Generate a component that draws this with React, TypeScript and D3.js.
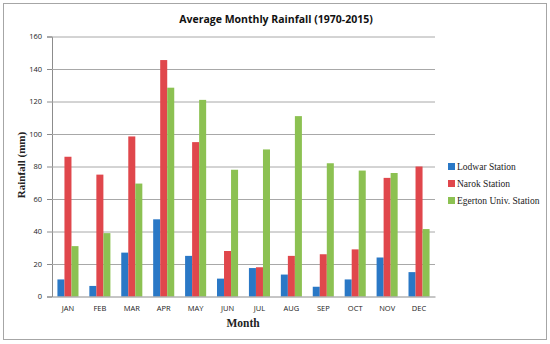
import { useEffect, useRef } from 'react';
import * as d3 from 'd3';

const MONTHS = ['JAN', 'FEB', 'MAR', 'APR', 'MAY', 'JUN', 'JUL', 'AUG', 'SEP', 'OCT', 'NOV', 'DEC'];
const STATIONS = ['Lodwar Station', 'Narok Station', 'Egerton Univ. Station'];
const LODWAR = [10.5, 6.5, 27, 47.5, 25, 11, 17.5, 13.5, 6, 10.5, 24, 15];
const NAROK = [86, 75, 98.5, 145.5, 95, 28, 18, 25, 26, 29, 73, 80];
const EGERTON = [31, 39, 69.5, 128.5, 121, 78, 90.5, 111, 82, 77.5, 76, 41.5];
const Y_TICKS = [0, 20, 40, 60, 80, 100, 120, 140, 160];
const COLORS = ['#2a78c6', '#e0474c', '#8cc152'];

const WIDTH = 550;
const HEIGHT = 344;

export default function App() {
  const ref = useRef<SVGSVGElement | null>(null);

  useEffect(() => {
    if (!ref.current) return;
    const svg = d3.select(ref.current);
    svg.selectAll('*').remove();

    const left = 52, right = 435, top = 36.5, bottom = 296.5;
    const series = [LODWAR, NAROK, EGERTON];

    // chart frame
    svg.append('rect')
      .attr('x', 3.5).attr('y', 3.5)
      .attr('width', 543).attr('height', 336)
      .attr('fill', '#fff').attr('stroke', '#a6a6a6');

    const x = d3.scaleBand().domain(MONTHS).range([left, right]).paddingInner(0.34).paddingOuter(0.17);
    const xs = d3.scaleBand().domain(STATIONS).range([0, x.bandwidth()]);
    const y = d3.scaleLinear().domain([0, 160]).range([bottom, top]);

    // gridlines + y axis
    const yAxis = svg.append('g')
      .attr('transform', `translate(${left},0)`)
      .call(d3.axisLeft(y).tickValues(Y_TICKS).tickSize(5).tickPadding(5));
    yAxis.select('.domain').attr('stroke', '#8c8c8c');
    yAxis.selectAll('.tick line').attr('stroke', '#8c8c8c');
    yAxis.selectAll('.tick text')
      .attr('fill', '#222')
      .style('font-family', 'Open Sans, sans-serif')
      .style('font-size', '7.5px');
    yAxis.selectAll('.tick').filter((d: any) => d !== 0)
      .append('line')
      .attr('x1', 0).attr('x2', right - left)
      .attr('stroke', '#a8a8a8').attr('stroke-width', 1);

    // bars
    series.forEach((vals, si) => {
      svg.append('g').selectAll('rect')
        .data(vals)
        .join('rect')
        .attr('x', (_, i) => (x(MONTHS[i]) as number) + (xs(STATIONS[si]) as number))
        .attr('y', d => y(d))
        .attr('width', xs.bandwidth())
        .attr('height', d => y(0) - y(d))
        .attr('fill', COLORS[si]);
    });

    // x baseline + labels
    const xAxis = svg.append('g')
      .attr('transform', `translate(0,${bottom})`)
      .call(d3.axisBottom(x).tickSize(0).tickPadding(9));
    xAxis.select('.domain').attr('stroke', '#8c8c8c');
    xAxis.selectAll('.tick text')
      .attr('fill', '#222')
      .style('font-family', 'Open Sans, sans-serif')
      .style('font-size', '7.5px');

    // title
    svg.append('text')
      .attr('x', 276).attr('y', 23)
      .attr('text-anchor', 'middle')
      .style('font-family', 'Open Sans, sans-serif')
      .style('font-weight', 700)
      .style('font-size', '10.5px')
      .attr('fill', '#111')
      .text('Average Monthly Rainfall (1970-2015)');

    // axis titles
    svg.append('text')
      .attr('transform', 'translate(25,165) rotate(-90)')
      .attr('text-anchor', 'middle')
      .style('font-family', 'Liberation Serif, serif')
      .style('font-weight', 700)
      .style('font-size', '11px')
      .attr('fill', '#222')
      .text('Rainfall (mm)');
    svg.append('text')
      .attr('x', 243).attr('y', 327)
      .attr('text-anchor', 'middle')
      .style('font-family', 'Liberation Serif, serif')
      .style('font-weight', 700)
      .style('font-size', '11.5px')
      .attr('fill', '#222')
      .text('Month');

    // legend
    const lg = svg.append('g').selectAll('g')
      .data(STATIONS)
      .join('g')
      .attr('transform', (_, i) => `translate(448,${166.5 + i * 17})`);
    lg.append('rect')
      .attr('x', 0).attr('y', -3.5)
      .attr('width', 7).attr('height', 7)
      .attr('fill', (_, i) => COLORS[i]);
    lg.append('text')
      .attr('x', 9).attr('y', 3)
      .style('font-family', 'Liberation Serif, serif')
      .style('font-size', '9.5px')
      .attr('fill', '#222')
      .text(d => d);
  }, []);

  return (
    <svg
      ref={ref}
      width={WIDTH}
      height={HEIGHT}
      style={{ position: 'absolute', left: 0, top: 0, background: '#fff' }}
    />
  );
}
